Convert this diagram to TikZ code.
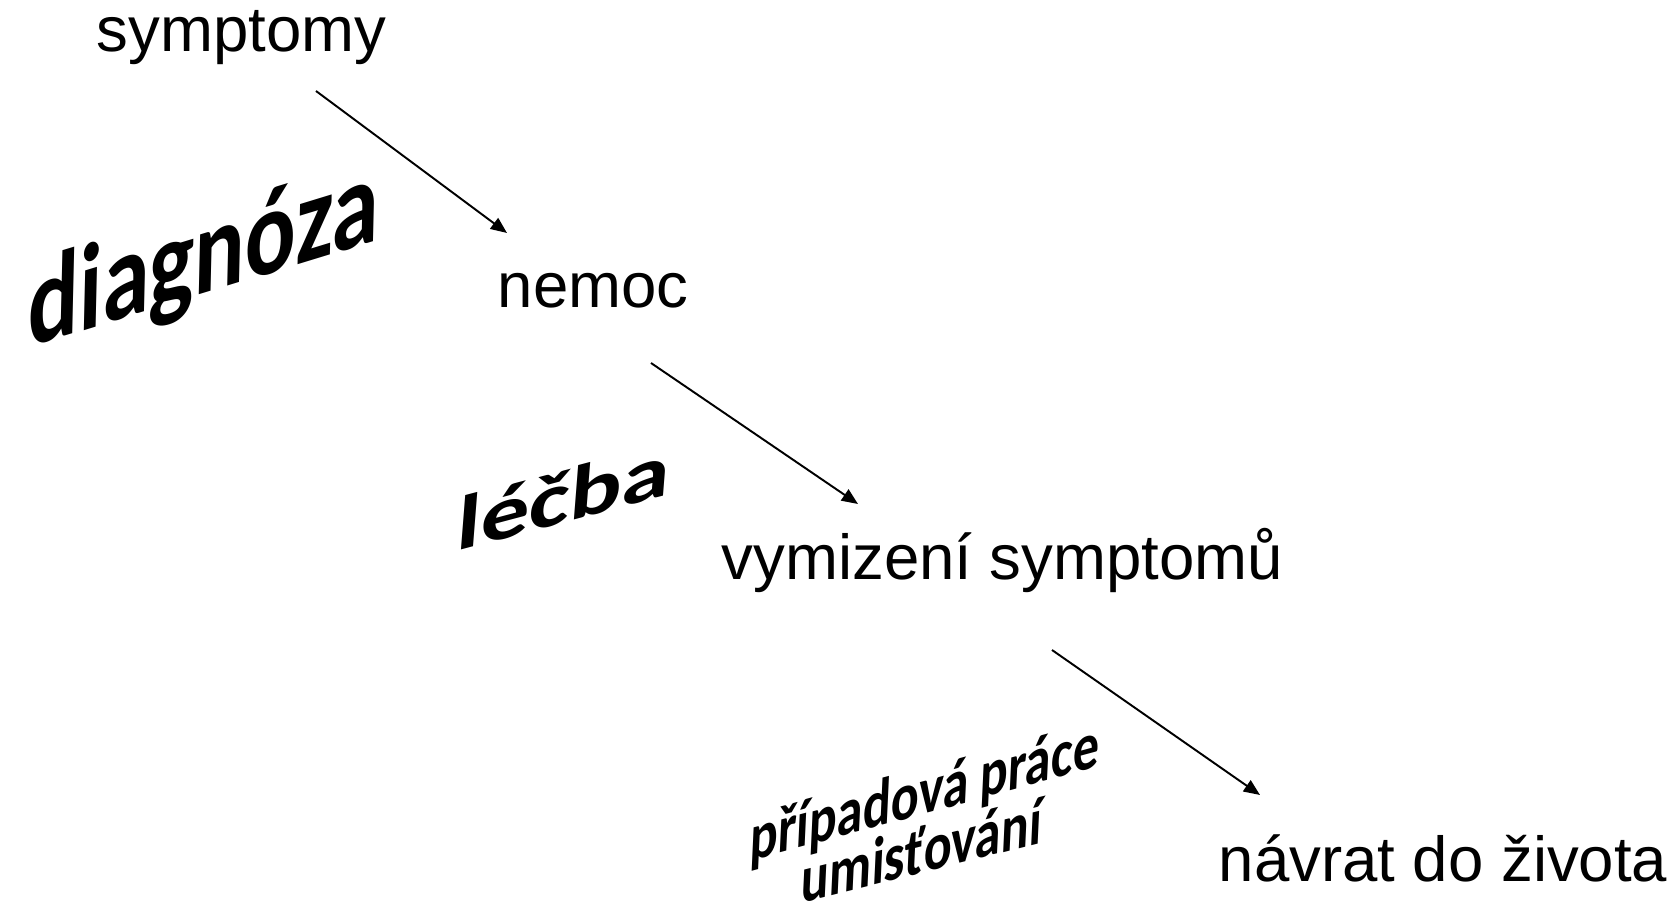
\documentclass[tikz,border=0pt]{standalone}
\usepackage{fontspec}
\setmainfont{Liberation Sans}
\newfontfamily\calib{Carlito}
\usetikzlibrary{arrows.meta}
\tikzset{
  plain/.style={inner sep=0pt, anchor=base west, font=\fontsize{18.07}{21}\selectfont},
  wordart/.style={inner sep=0pt, anchor=base},
  arr/.style={line width=0.55pt, -{Triangle[length=4.6pt,width=3.8pt]}}
}
\begin{document}
\begin{tikzpicture}[x=0.01cm,y=-0.01cm]
\useasboundingbox (0,0) rectangle (1675,910);
\node[plain] (symptomy) at (96,52) {symptomy};
\node[plain] (nemoc) at (497,308) {nemoc};
\node[plain] (vymizeni) at (721,580) {vymizení symptomů};
\node[plain] (navrat) at (1218,882) {návrat do života};
\node[wordart, cm={1,0.306,0.03,1.3,(0,0)}, font=\calib\bfseries\fontsize{27}{30}\selectfont] (diag) at (203,294) {diagnóza};
\node[wordart, cm={1.28,0.34,0.08,1.02,(0,0)}, font=\calib\bfseries\fontsize{21.6}{24}\selectfont] (lecba) at (562,523) {léčba};
\node[wordart, cm={1,0.27,0.06,1.3,(0,0)}, font=\calib\bfseries\fontsize{14.8}{17}\selectfont] (pripad) at (924,814) {případová práce};
\node[wordart, cm={1,0.25,0.06,1.3,(0,0)}, font=\calib\bfseries\fontsize{14.8}{17}\selectfont] (umist) at (921,873) {umisťování};
\coordinate (a1s) at (316,91);
\coordinate (a1e) at (507,233);
\coordinate (a2s) at (651,363);
\coordinate (a2e) at (858,504);
\coordinate (a3s) at (1052,650);
\coordinate (a3e) at (1260,795);
\draw[arr] (a1s) -- (a1e);
\draw[arr] (a2s) -- (a2e);
\draw[arr] (a3s) -- (a3e);
\end{tikzpicture}
\end{document}
